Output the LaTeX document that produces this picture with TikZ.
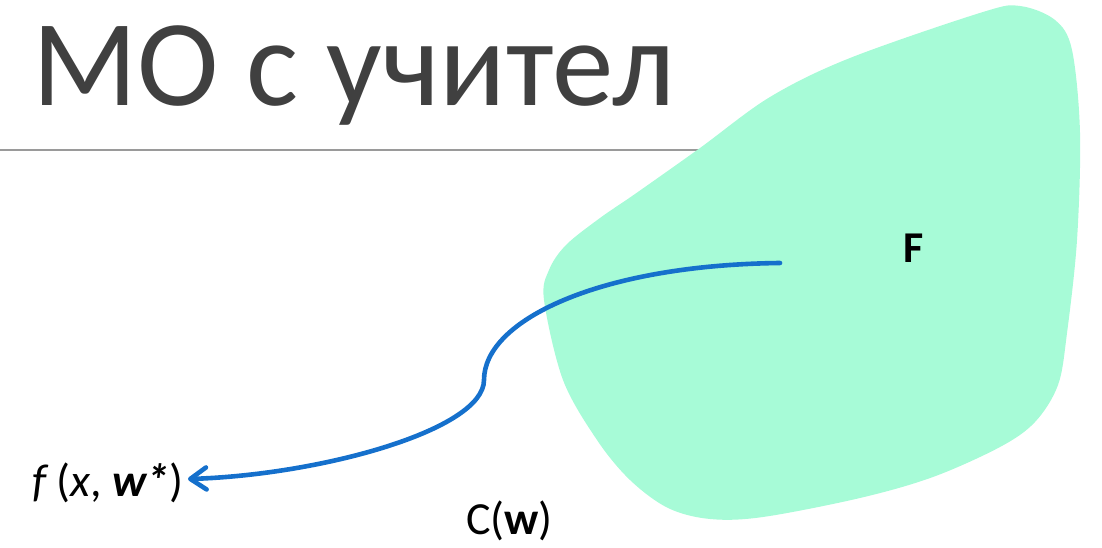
\documentclass[tikz,border=0pt]{standalone}
\usepackage{fontspec}
\setmainfont{Carlito}
\usetikzlibrary{arrows.meta}
\definecolor{blobgreen}{HTML}{A7FBD7}
\definecolor{curveblue}{HTML}{1570CC}
\definecolor{titlegray}{HTML}{404040}
\definecolor{rulegray}{HTML}{9A9A9A}
\tikzset{
  titletext/.style={anchor=base west, inner sep=0pt, text=titlegray, font=\fontsize{123}{130}\selectfont},
  labeltext/.style={inner sep=0pt, text=black, font=\fontsize{46}{50}\selectfont},
  bigF/.style={inner sep=0pt, anchor=base, text=black, font=\fontsize{44}{48}\selectfont\bfseries},
  flowcurve/.style={draw=curveblue, line width=4.6pt, line cap=round, -{Straight Barb[length=16pt,width=22pt,round]}},
}
\begin{document}
\begin{tikzpicture}[x=1pt,y=-1pt]
\useasboundingbox (0,0) rectangle (1102,548);
% rule under title
\draw[rulegray, line width=1.6pt] (0,150) -- (720,150);
% blob
\fill[blobgreen] plot[smooth cycle, tension=0.55] coordinates {
  (544,300) (549,270) (566,245) (600,218) (635,194) (700,148) (770,97) (850,58) (983,12)
  (1020,6) (1055,20) (1072,50) (1080,133) (1077,240) (1067,333)
  (1058,385) (1035,422) (1000,447) (933,477) (860,498) (763,517)
  (710,519) (668,508) (630,480) (597,440) (563,380)};
% title
\node[titletext] (title) at (32,106) {МО с учител};
% labels
\node[bigF] (F) at (914,262) {F};
\node[labeltext, anchor=base east] (fw) at (184,496) {{\itshape f} ({\itshape x}, {\bfseries\itshape w*})};
\node[labeltext, anchor=base west] (Cw) at (466,534) {C({\bfseries w})};
% curve
\coordinate (cstart) at (780,263);
\coordinate (cmid) at (484,380);
\coordinate (ctip) at (188,479);
\draw[flowcurve] (cstart) .. controls (600,265) and (484,320) .. (cmid)
  .. controls (484,430) and (320,475) .. (ctip);
\end{tikzpicture}
\end{document}
